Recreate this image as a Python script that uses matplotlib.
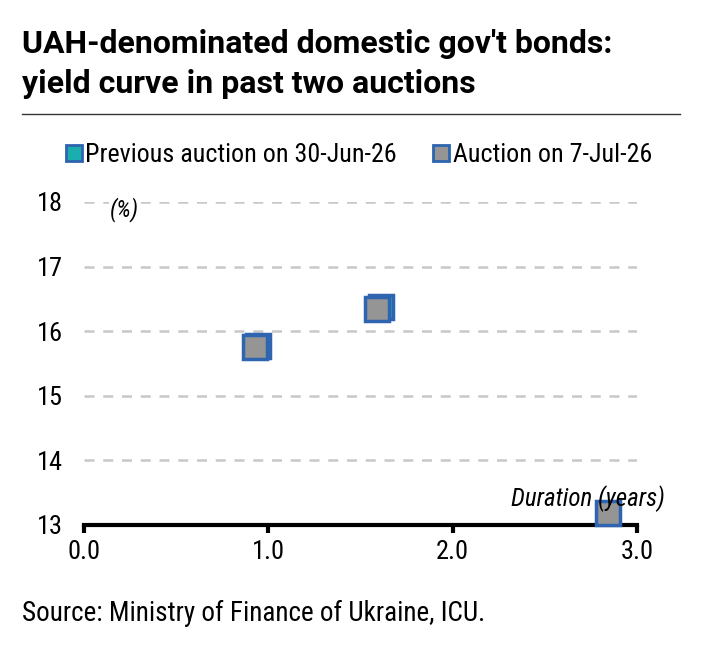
import matplotlib.pyplot as plt
from matplotlib.lines import Line2D

# data
prev_duration = [0.945, 1.61]
prev_yield = [15.77, 16.38]
curr_duration = [0.93, 1.59, 2.84]
curr_yield = [15.75, 16.35, 13.18]

y_ticks = [13, 14, 15, 16, 17, 18]
x_ticks = [0.0, 1.0, 2.0, 3.0]

plt.rcParams['font.family'] = ['Roboto Condensed', 'DejaVu Sans']

teal = '#1aaeae'
grey = '#959595'
blue = '#2e64b0'

fig = plt.figure(figsize=(7.04, 6.51), dpi=100)
ax = fig.add_axes([84 / 704, 1 - 525 / 651, (637 - 84) / 704, (525 - 202) / 651])

ax.plot(prev_duration, prev_yield, 's', ms=17, mfc=teal, mec=blue, mew=2.5,
        ls='none', clip_on=False, zorder=3)
ax.plot(curr_duration, curr_yield, 's', ms=17, mfc=grey, mec=blue, mew=2.5,
        ls='none', clip_on=False, zorder=4)

ax.set_xlim(0, 3)
ax.set_ylim(13, 18)
ax.set_xticks(x_ticks)
ax.set_xticklabels([f'{v:.1f}' for v in x_ticks])
ax.set_yticks(y_ticks)
ax.tick_params(axis='x', direction='out', length=6, width=3, labelsize=19, pad=5)
ax.tick_params(axis='y', length=0, labelsize=19, pad=15)

for v in y_ticks[1:]:
    ax.axhline(v, color='#c8c8c8', lw=1.8, ls=(0, (4, 3.5)), zorder=1)

for s in ['top', 'right', 'left']:
    ax.spines[s].set_visible(False)
ax.spines['bottom'].set_linewidth(3)
ax.spines['bottom'].set_zorder(2)

ax.text(0.22, 18.08, '(%)', style='italic', fontsize=17, ha='center', va='top',
        bbox=dict(fc='white', ec='none', pad=1), zorder=2)
ax.text(3.15, 13.3, 'Duration (years)', style='italic', fontsize=18,
        ha='right', va='baseline', zorder=5)

title_font = dict(family=['Roboto', 'DejaVu Sans'], fontsize=23, fontweight='bold',
                  ha='left', va='baseline')
fig.text(22 / 704, 1 - 53 / 651, "UAH-denominated domestic gov't bonds:", **title_font)
fig.text(22 / 704, 1 - 93 / 651, "yield curve in past two auctions", **title_font)
fig.add_artist(Line2D([22 / 704, 680 / 704], [1 - 114 / 651, 1 - 114 / 651],
                      color='#333333', lw=1))

handles = [
    Line2D([], [], marker='s', ls='none', ms=11, mfc=teal, mec=blue, mew=2),
    Line2D([], [], marker='s', ls='none', ms=11, mfc=grey, mec=blue, mew=2),
]
fig.legend(handles, ['Previous auction on 30-Jun-26', 'Auction on 7-Jul-26'],
           loc='center', bbox_to_anchor=(0.507, 1 - 155 / 651), ncol=2, frameon=False,
           fontsize=18.7, handletextpad=0.0, columnspacing=1.25, handlelength=0.9)

fig.text(22 / 704, 1 - 621 / 651, 'Source: Ministry of Finance of Ukraine, ICU.',
         fontsize=19.5, ha='left', va='baseline')

fig.savefig('out.png', dpi=100)
